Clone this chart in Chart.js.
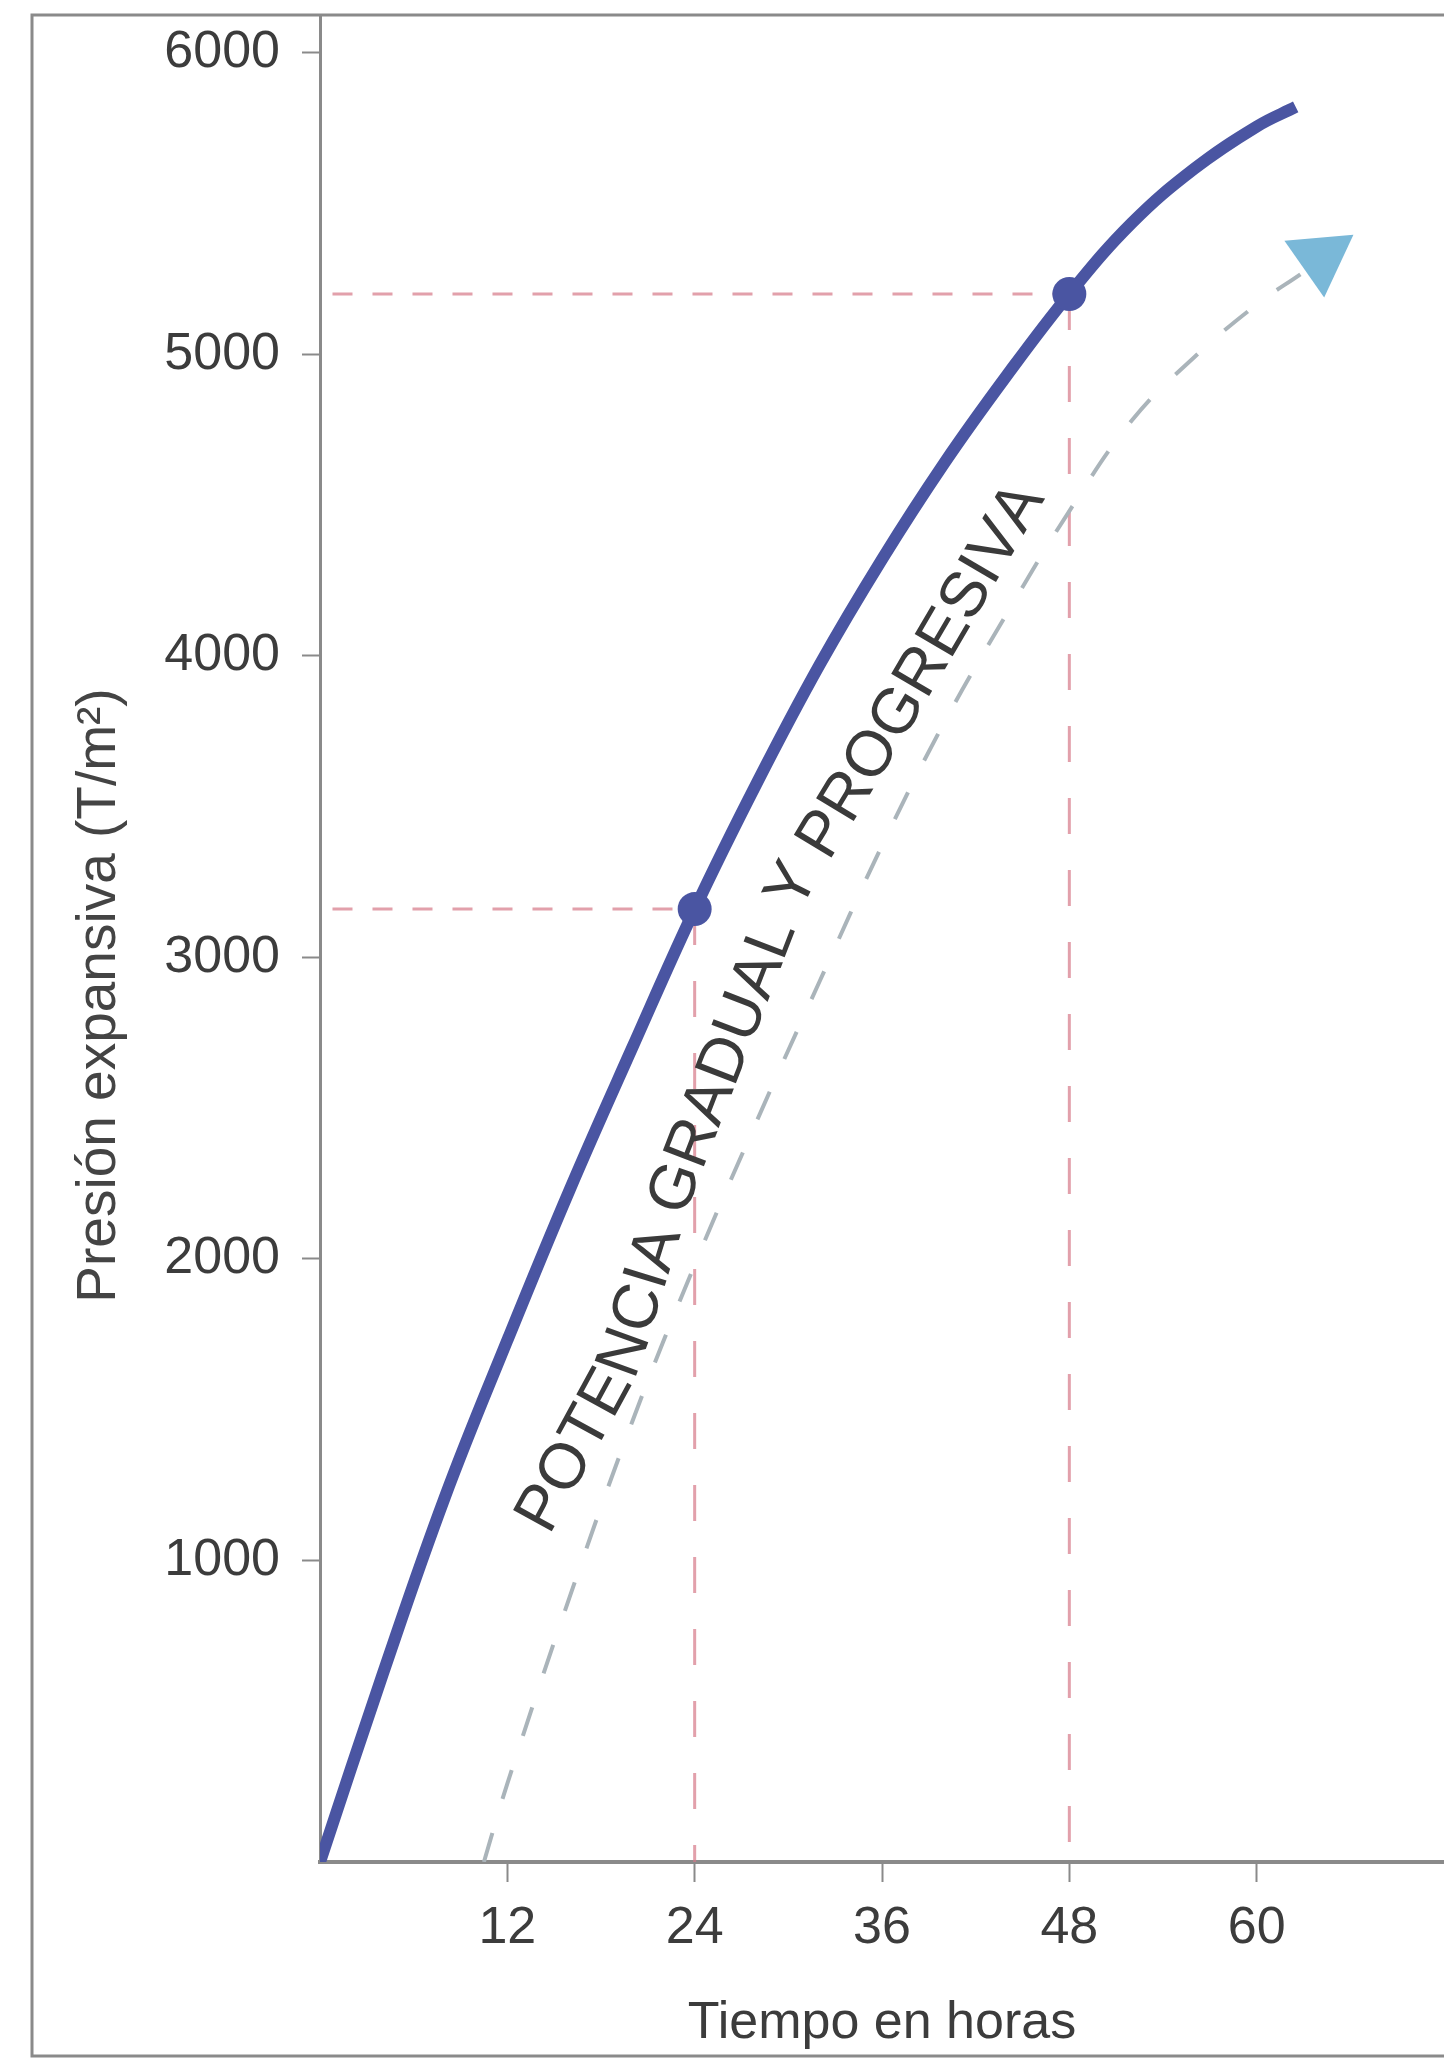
<!DOCTYPE html>
<html>
<head>
<meta charset="utf-8">
<script src="https://cdn.jsdelivr.net/npm/chart.js@4.4.0/dist/chart.umd.min.js"></script>
<style>
  html, body { margin: 0; padding: 0; background: #fff; overflow: hidden; }
  #wrap { width: 1444px; height: 2058px; position: relative; }
</style>
</head>
<body>
<div id="wrap"><canvas id="chart"></canvas></div>
<script>
// ── data ──
const curveHours  = [0, 4, 8, 12, 16, 20, 24, 28, 32, 36, 40, 44, 48, 52, 56, 60, 62.5];
const curveValues = [0, 620, 1210, 1730, 2230, 2700, 3160, 3580, 3970, 4320, 4640, 4930, 5200, 5435, 5615, 5755, 5820];

// dashed "gradual" guide ending in an arrow head
const trendHours  = [10.5, 12, 16, 20, 24, 28, 32, 36, 40, 44, 48, 52, 56, 60, 62.8];
const trendValues = [0, 260, 880, 1460, 1980, 2460, 2920, 3370, 3780, 4140, 4480, 4780, 4990, 5165, 5265];
const arrowHour = 64.1, arrowValue = 5320;

// marked readings (red dashed guides)
const markHours  = [24, 48];
const markValues = [3160, 5200];

const xTicks = [12, 24, 36, 48, 60];
const yTicks = [1000, 2000, 3000, 4000, 5000, 6000];

const xTitle = 'Tiempo en horas';
const yTitle = 'Presión expansiva (T/m²)';
const curveLabel = 'POTENCIA GRADUAL Y PROGRESIVA';
// path the rotated label follows (hours, T/m²)
const labelPathHours  = [13.7, 19.3, 22.8, 30.3, 37.3, 45.0, 47.2];
const labelPathValues = [1110, 1641, 2230, 3233, 3830, 4510, 4700];

const FONT = '"Liberation Sans", Arial, Helvetica, sans-serif';
const BLUE = '#4a55a2';
const RED = 'rgba(214, 120, 135, 0.7)';
const AXIS = '#8a8a8a';

const toPts = (xs, ys) => xs.map((x, i) => ({ x, y: ys[i] }));

// horizontal and vertical guide segments, broken with nulls
const hGuide = [], vGuide = [];
markHours.forEach((h, i) => {
  hGuide.push({ x: 0.8, y: markValues[i] }, { x: h, y: markValues[i] }, { x: h, y: null });
  vGuide.push({ x: h, y: markValues[i] }, { x: h, y: 0 }, { x: h, y: null });
});

const framePlugin = {
  id: 'frame',
  beforeDraw(chart) {
    const ctx = chart.ctx;
    ctx.save();
    ctx.fillStyle = '#fff';
    ctx.fillRect(0, 0, chart.width, chart.height);
    ctx.strokeStyle = AXIS;
    ctx.lineWidth = 3;
    ctx.strokeRect(32, chart.chartArea.top, chart.width, chart.height - chart.chartArea.top - 2);
    ctx.restore();
  }
};

const labelsPlugin = {
  id: 'labels',
  afterDatasetsDraw(chart) {
    const { ctx, chartArea, scales } = chart;
    ctx.save();
    // y-axis title
    ctx.fillStyle = '#444';
    ctx.font = '55px ' + FONT;
    ctx.textAlign = 'center';
    ctx.textBaseline = 'middle';
    ctx.translate(100, (chartArea.top + chartArea.bottom) / 2 + 57);
    ctx.rotate(-Math.PI / 2);
    ctx.fillText(yTitle, 0, 0);
    ctx.restore();

    // label along the curve
    const pts = labelPathHours.map((h, i) => ({ x: scales.x.getPixelForValue(h), y: scales.y.getPixelForValue(labelPathValues[i]) }));
    const cum = [0];
    for (let i = 1; i < pts.length; i++) cum.push(cum[i - 1] + Math.hypot(pts[i].x - pts[i - 1].x, pts[i].y - pts[i - 1].y));
    const at = s => {
      s = Math.max(0, Math.min(cum[cum.length - 1], s));
      let i = 1;
      while (i < cum.length - 1 && cum[i] < s) i++;
      const t = (s - cum[i - 1]) / (cum[i] - cum[i - 1]);
      return { x: pts[i - 1].x + (pts[i].x - pts[i - 1].x) * t, y: pts[i - 1].y + (pts[i].y - pts[i - 1].y) * t };
    };
    ctx.save();
    ctx.fillStyle = '#3a3a3a';
    ctx.font = '64px ' + FONT;
    ctx.textAlign = 'center';
    ctx.textBaseline = 'middle';
    let s = 0;
    for (const ch of curveLabel) {
      const w = ctx.measureText(ch).width;
      const mid = s + w / 2;
      const p = at(mid), a = at(mid - 30), b = at(mid + 30);
      ctx.save();
      ctx.translate(p.x, p.y);
      ctx.rotate(Math.atan2(b.y - a.y, b.x - a.x));
      ctx.fillText(ch, 0, 0);
      ctx.restore();
      s += w;
    }
    ctx.restore();
  }
};

new Chart(document.getElementById('chart'), {
  type: 'scatter',
  data: {
    datasets: [
      { label: 'marks', data: toPts(markHours, markValues), pointRadius: 17, pointBackgroundColor: BLUE, pointBorderWidth: 0, order: 0 },
      { label: 'curve', data: toPts(curveHours, curveValues), showLine: true, borderColor: BLUE, borderWidth: 12,
        borderCapStyle: 'butt', tension: 0.4, pointRadius: 0, order: 1 },
      { label: 'arrow', data: [{ x: arrowHour, y: arrowValue }], pointStyle: 'triangle', rotation: 55, pointRadius: 40,
        pointBackgroundColor: '#7ab8d8', pointBorderWidth: 0, order: 2 },
      { label: 'trend', data: toPts(trendHours, trendValues), showLine: true, borderColor: '#aab4ba', borderWidth: 4,
        borderDash: [30, 36], tension: 0.4, pointRadius: 0, order: 3 },
      { label: 'hguide', data: hGuide, showLine: true, spanGaps: false, borderColor: RED, borderWidth: 3,
        borderDash: [20, 20], pointRadius: 0, order: 4 },
      { label: 'vguide', data: vGuide, showLine: true, spanGaps: false, borderColor: RED, borderWidth: 3,
        borderDash: [36, 36], pointRadius: 0, order: 4 }
    ]
  },
  options: {
    responsive: true,
    maintainAspectRatio: false,
    animation: false,
    layout: { autoPadding: false, padding: { top: 15, left: 0, right: 0, bottom: 0 } },
    plugins: { legend: { display: false }, tooltip: { enabled: false } },
    scales: {
      x: {
        type: 'linear', min: 0, max: 72,
        afterBuildTicks: s => { s.ticks = xTicks.map(v => ({ value: v })); },
        afterFit: s => { s.height = 196; s.paddingLeft = 0; s.paddingRight = 0; },
        ticks: { color: '#3c3c3c', font: { family: FONT, size: 52 }, padding: 15, maxRotation: 0, callback: v => String(v) },
        grid: { drawOnChartArea: false, drawTicks: true, tickLength: 20, tickColor: AXIS, tickWidth: 2 },
        border: { color: AXIS, width: 4 },
        title: { display: true, text: xTitle, color: '#3c3c3c', font: { family: FONT, size: 52 }, padding: { top: 0, bottom: 3 } }
      },
      y: {
        type: 'linear', min: 0, max: 6125,
        afterBuildTicks: s => { s.ticks = yTicks.map(v => ({ value: v })); },
        afterFit: s => { s.width = 320; s.paddingTop = 0; s.paddingBottom = 0; },
        ticks: { color: '#3c3c3c', font: { family: FONT, size: 52 }, padding: 22, callback: v => String(v) },
        grid: { drawOnChartArea: false, drawTicks: true, tickLength: 18, tickColor: AXIS, tickWidth: 2 },
        border: { color: AXIS, width: 3 }
      }
    }
  },
  plugins: [framePlugin, labelsPlugin]
});
</script>
</body>
</html>
